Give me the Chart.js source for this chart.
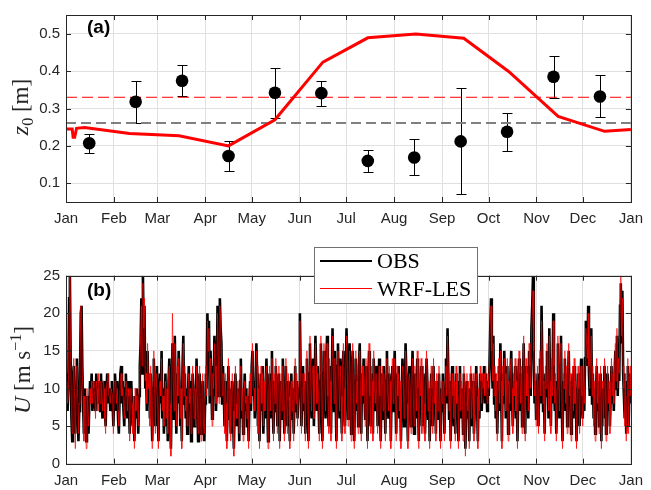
<!DOCTYPE html>
<html>
<head>
<meta charset="utf-8">
<script src="https://cdn.jsdelivr.net/npm/chart.js@4"></script>
<style>
    body { margin: 0; background: #fff; }
    #wrap { position: relative; width: 651px; height: 490px; }
    canvas { position: absolute; left: 0; }
    #chartA { top: 0; }
    #chartB { top: 235px; }
</style>
</head>
<body>
<div id="wrap">
    <canvas id="chartA" width="651" height="235"></canvas>
    <canvas id="chartB" width="651" height="255"></canvas>
</div>
<script>
// shared month axis (day of year)
const monthStarts = [0, 31, 59, 90, 120, 151, 181, 212, 243, 273, 304, 334, 365];
const monthLabels = ['Jan', 'Feb', 'Mar', 'Apr', 'May', 'Jun', 'Jul', 'Aug', 'Sep', 'Oct', 'Nov', 'Dec', 'Jan'];

// panel (a): roughness length
const z0Ticks = [0.1, 0.2, 0.3, 0.4, 0.5];
const obsDays = [15, 45, 75, 105, 135, 165, 195, 225, 255, 285, 315, 345];
const obsZ0 = [0.207, 0.318, 0.374, 0.173, 0.342, 0.341, 0.160, 0.169, 0.212, 0.238, 0.385, 0.332];
const obsZ0Low = [0.181, 0.261, 0.333, 0.133, 0.274, 0.307, 0.131, 0.123, 0.071, 0.187, 0.329, 0.276];
const obsZ0High = [0.232, 0.374, 0.415, 0.212, 0.409, 0.374, 0.190, 0.218, 0.354, 0.288, 0.441, 0.389];
const wrfDays = [0, 4, 4.6, 5.6, 6.8, 12, 41, 73, 105, 135, 166, 195, 226, 257, 286, 318, 348, 365];
const wrfZ0 = [0.245, 0.245, 0.223, 0.223, 0.247, 0.249, 0.233, 0.227, 0.200, 0.270, 0.424, 0.489, 0.499, 0.488, 0.399, 0.279, 0.239, 0.244];
const obsZ0Mean = 0.261;
const wrfZ0Mean = 0.330;

// panel (b): wind speed, two samples per day
const uTicks = [0, 5, 10, 15, 20, 25];
const obsU = [
    9,12,7,10,22,25,14,6,3,11,13,8,4,10,14,9,3,7,12,20,21,13,8,4,10,7,3,9,6,4,8,11,9,12,7,10,11,8,7,12,9,8,11,10,7,12,8,6,10,11,7,5,9,12,11,8,10,7,9,11,
    8,5,9,12,10,7,11,6,4,9,12,13,8,11,7,5,10,12,9,6,11,8,4,9,11,7,5,8,3,9,6,10,8,4,9,13,16,22,12,25,17,21,10,13,7,15,9,11,6,12,8,3,10,14,9,5,
    11,13,7,3,9,12,8,15,6,10,4,8,12,5,9,3,11,14,7,2,9,16,13,6,17,10,4,12,8,15,11,5,9,3,13,17,8,12,6,10,4,9,13,7,11,3,8,12,10,5,9,6,14,8,3,10,12,7,4,9,11,6,
    3,8,12,10,20,14,19,8,15,11,6,13,9,17,12,7,10,21,14,9,22,18,16,8,13,10,5,11,7,3,9,13,6,10,4,8,11,6,2,7,12,9,5,10,8,3,11,14,6,9,4,8,12,7,10,5,9,3,8,11,
    7,13,15,9,11,6,10,16,12,5,9,3,8,12,7,13,4,10,6,11,14,8,3,9,12,6,10,15,8,4,11,7,13,9,5,10,12,3,8,11,6,14,9,4,10,13,7,5,11,8,3,9,12,6,10,4,8,13,7,11,6,9,
    10,20,12,5,9,13,7,11,4,10,14,8,3,12,16,9,6,11,14,5,10,17,12,7,13,8,4,11,16,9,3,12,15,10,6,14,17,8,5,13,10,4,11,18,12,7,15,9,3,13,16,10,6,14,8,4,12,15,9,5,
    11,18,13,6,10,16,9,4,12,15,8,3,11,14,7,10,5,13,16,9,4,12,8,14,10,6,13,9,3,11,15,8,5,12,10,4,14,9,7,13,11,5,9,14,8,3,10,12,6,13,9,4,11,15,8,6,12,10,3,9,13,7,
    10,15,9,4,12,8,13,6,10,3,9,14,11,5,8,16,12,7,3,10,13,9,5,11,15,8,4,12,10,6,14,9,3,11,8,13,5,10,12,7,4,9,14,11,6,10,3,8,12,9,5,13,7,10,4,11,9,6,12,8,3,10,
    7,12,9,4,10,14,8,18,12,6,11,3,9,13,8,5,10,4,12,7,11,3,8,13,6,10,9,4,12,8,2,7,11,6,10,3,9,12,5,8,11,4,7,10,13,8,3,9,6,12,10,7,11,9,13,8,12,10,7,11,
    9,13,18,22,14,10,17,8,12,6,11,4,9,13,7,16,10,3,12,8,15,11,6,9,13,4,10,7,12,15,9,5,11,8,13,6,10,3,9,14,11,7,12,5,10,16,9,4,13,8,11,6,15,12,9,18,21,25,14,8,11,6,
    9,12,5,10,14,8,21,13,7,10,4,12,9,15,11,6,18,10,5,13,8,20,12,7,11,4,9,16,10,6,13,17,8,3,11,9,14,7,12,5,10,15,8,11,4,9,12,6,13,7,10,3,8,12,9,5,11,14,8,6,
    11,7,14,19,17,13,21,12,9,15,18,8,12,6,10,4,9,13,7,11,5,8,12,3,10,9,6,13,11,4,8,12,7,10,5,9,13,8,11,7,12,15,10,17,9,13,11,21,24,16,23,12,9,6,11,4,8,13,5,10,12,8
];
const wrfU = [
    10,11,8,9,20,25,15,7,4,10,14,9,2,9,13,10,4,8,13,21,20,12,9,3,9,8,2,10,7,5,9,10,8,11,8,11,10,9,6,11,10,7,12,9,8,11,9,7,11,10,6,4,10,11,12,9,9,8,10,10,
    9,4,10,11,11,8,10,7,5,8,11,12,9,10,8,6,9,11,10,7,10,9,3,10,10,8,4,9,2,10,7,9,9,5,10,12,17,21,13,24,18,22,11,12,8,16,10,12,5,13,9,2,11,15,10,4,
    12,12,8,2,10,11,9,14,7,9,5,9,11,6,10,4,12,13,8,1,10,20,12,7,16,11,5,13,9,14,12,6,10,2,12,16,9,13,7,9,5,10,12,8,10,4,9,13,9,6,10,5,13,9,4,11,13,6,3,10,12,5,
    4,9,13,9,19,15,18,9,14,12,5,12,10,16,13,8,11,20,15,8,21,19,15,9,12,11,4,12,8,2,10,14,5,11,3,9,12,7,1,8,13,8,6,11,9,4,12,13,7,10,3,9,11,8,9,6,10,2,9,12,
    8,12,16,10,10,7,11,15,13,4,10,2,9,13,8,12,5,11,7,12,13,9,2,10,13,7,11,14,9,3,12,8,14,10,4,11,13,2,9,12,7,13,10,3,11,14,8,4,12,9,2,10,11,7,11,3,9,14,8,12,5,10,
    11,19,13,4,10,12,8,12,3,11,15,9,2,13,17,10,7,12,13,6,11,16,13,8,12,9,3,12,17,10,2,13,16,11,7,13,16,9,4,14,11,3,12,17,13,8,14,10,2,14,15,11,7,13,9,3,13,16,10,4,
    12,17,14,5,11,15,10,3,13,16,9,2,12,15,8,11,4,14,15,10,3,13,9,13,11,5,14,10,2,12,16,9,4,13,11,3,15,10,8,12,12,4,10,13,9,2,11,13,7,12,10,3,12,14,9,7,13,11,2,10,14,8,
    11,14,10,3,13,9,12,7,11,2,10,13,12,6,9,15,13,8,2,11,12,10,4,12,14,9,5,13,11,7,15,10,2,12,9,14,4,11,13,8,3,10,15,12,7,11,2,9,13,10,4,14,8,11,3,12,10,7,13,9,2,11,
    8,11,10,3,11,13,9,17,13,7,12,2,10,12,9,6,11,3,13,8,12,2,9,12,7,11,10,3,13,9,1,8,12,7,11,2,10,13,6,9,12,3,8,11,12,9,2,10,7,13,11,8,12,10,12,9,13,11,8,12,
    10,14,19,21,15,11,16,9,13,7,12,3,10,14,8,15,11,2,13,9,14,12,7,10,14,3,11,8,13,14,10,4,12,9,14,7,11,2,10,15,12,8,13,4,11,17,10,3,14,9,12,7,16,13,10,17,20,23,15,9,12,5,
    10,13,4,11,15,9,19,14,8,11,3,13,10,16,12,7,17,11,4,14,9,19,13,8,12,3,10,17,11,7,14,16,9,2,12,10,15,8,13,4,11,16,9,12,3,10,13,7,14,8,11,2,9,13,10,4,12,13,9,5,
    12,8,13,18,16,14,20,13,10,14,17,9,13,5,11,3,10,14,8,12,4,9,13,2,11,10,5,14,12,3,9,13,8,11,4,10,14,9,12,8,13,16,11,18,10,14,12,22,25,17,22,13,10,5,12,3,9,14,4,11,13,9
];

const INK = '#262626';
const TICK_FONT = { family: 'Liberation Sans, Arial, sans-serif', size: 15 };
const SERIF = 'Liberation Serif, Times New Roman, serif';

function toXY(xs, ys) {
    return ys.map((v, i) => ({ x: xs[i], y: v }));
}
function spreadOverYear(ys) {
    return ys.map((v, i) => ({ x: i * 365 / (ys.length - 1), y: v }));
}

function monthAxis(height) {
    return {
        type: 'linear', min: 0, max: 365,
        afterBuildTicks: s => { s.ticks = monthStarts.map(v => ({ value: v })); },
        afterFit: s => { s.height = height; },
        ticks: {
            autoSkip: false, maxRotation: 0, padding: 8, color: INK, font: TICK_FONT,
            callback: v => monthLabels[monthStarts.indexOf(v)]
        },
        grid: { color: '#e0e0e0', drawTicks: false },
        border: { display: false }
    };
}

function valueAxis(min, max, ticks, fmt) {
    return {
        type: 'linear', min: min, max: max,
        afterBuildTicks: s => { s.ticks = ticks.map(v => ({ value: v })); },
        afterFit: s => { s.width = 66; },
        ticks: { padding: 6, color: INK, font: TICK_FONT, callback: fmt },
        grid: { color: '#e0e0e0', drawTicks: false },
        border: { display: false }
    };
}

// box, inward ticks, panel letter and the LaTeX-like y title
const matlabAxes = {
    id: 'matlabAxes',
    afterDraw(chart, args, opts) {
        const { ctx, chartArea: a, scales: { x, y } } = chart;
        ctx.save();
        ctx.strokeStyle = INK;
        ctx.lineWidth = 1;
        ctx.beginPath();
        x.ticks.forEach(t => {
            const px = Math.round(x.getPixelForValue(t.value)) + 0.5;
            ctx.moveTo(px, a.bottom); ctx.lineTo(px, a.bottom - 5);
            ctx.moveTo(px, a.top); ctx.lineTo(px, a.top + 5);
        });
        y.ticks.forEach(t => {
            const py = Math.round(y.getPixelForValue(t.value)) + 0.5;
            ctx.moveTo(a.left, py); ctx.lineTo(a.left + 5, py);
            ctx.moveTo(a.right, py); ctx.lineTo(a.right - 5, py);
        });
        ctx.stroke();
        ctx.strokeRect(Math.round(a.left) + 0.5, Math.round(a.top) + 0.5,
            Math.round(a.right - a.left), Math.round(a.bottom - a.top));

        ctx.fillStyle = '#000';
        ctx.font = 'bold 19px Liberation Sans, Arial, sans-serif';
        ctx.textBaseline = 'alphabetic';
        ctx.textAlign = 'left';
        ctx.fillText(opts.panel, 87, opts.panelY);

        // rotated title made of parts
        ctx.fillStyle = INK;
        const parts = opts.title;
        let total = 0;
        parts.forEach(p => {
            ctx.font = (p.it ? 'italic ' : '') + p.s + 'px ' + SERIF;
            p.w = ctx.measureText(p.t).width;
            total += p.w;
        });
        ctx.translate(opts.titleX, opts.titleY);
        ctx.rotate(-Math.PI / 2);
        let cx = -total / 2;
        parts.forEach(p => {
            ctx.font = (p.it ? 'italic ' : '') + p.s + 'px ' + SERIF;
            ctx.fillText(p.t, cx, p.dy || 0);
            cx += p.w;
        });
        ctx.restore();
    }
};

const errorBars = {
    id: 'errorBars',
    beforeDatasetsDraw(chart) {
        const { ctx, scales: { x, y } } = chart;
        ctx.save();
        ctx.strokeStyle = '#000';
        ctx.lineWidth = 1;
        ctx.beginPath();
        obsDays.forEach((d, i) => {
            const px = Math.round(x.getPixelForValue(d)) + 0.5;
            const lo = Math.round(y.getPixelForValue(obsZ0Low[i])) + 0.5;
            const hi = Math.round(y.getPixelForValue(obsZ0High[i])) + 0.5;
            ctx.moveTo(px, lo); ctx.lineTo(px, hi);
            ctx.moveTo(px - 5, lo); ctx.lineTo(px + 5, lo);
            ctx.moveTo(px - 5, hi); ctx.lineTo(px + 5, hi);
        });
        ctx.stroke();
        ctx.restore();
    }
};

const boxLegend = {
    id: 'boxLegend',
    afterDraw(chart) {
        const ctx = chart.ctx;
        const ds = chart.data.datasets;
        ctx.save();
        ctx.fillStyle = '#fff';
        ctx.fillRect(314.5, 12.5, 163, 56);
        ctx.strokeStyle = '#707070';
        ctx.lineWidth = 1;
        ctx.strokeRect(314.5, 12.5, 163, 56);
        const rows = [ds[1], ds[0]];
        rows.forEach((d, i) => {
            const yy = 26 + i * 27.5;
            ctx.strokeStyle = i === 0 ? '#000' : '#ff0000';
            ctx.lineWidth = i === 0 ? 2 : 1;
            ctx.beginPath();
            ctx.moveTo(320, yy); ctx.lineTo(372, yy);
            ctx.stroke();
            ctx.fillStyle = '#000';
            ctx.font = '22px ' + SERIF;
            ctx.textBaseline = 'alphabetic';
            ctx.fillText(d.label, 377, yy + 7);
        });
        ctx.restore();
    }
};

new Chart(document.getElementById('chartA'), {
    type: 'scatter',
    data: {
        datasets: [
            { label: 'obs', data: toXY(obsDays, obsZ0), pointRadius: 6.3, pointBackgroundColor: '#000',
              pointBorderColor: '#000', pointBorderWidth: 0, order: 0 },
            { label: 'wrf', data: toXY(wrfDays, wrfZ0), showLine: true, borderColor: '#ff0000',
              borderWidth: 3, pointRadius: 0, order: 1 },
            { label: 'wrf mean', data: [{ x: 0, y: wrfZ0Mean }, { x: 365, y: wrfZ0Mean }], showLine: true,
              borderColor: '#ff0000', borderWidth: 1, borderDash: [11, 5], pointRadius: 0, order: 2 },
            { label: 'obs mean', data: [{ x: 0, y: obsZ0Mean }, { x: 365, y: obsZ0Mean }], showLine: true,
              borderColor: '#808080', borderWidth: 2, borderDash: [10, 5], pointRadius: 0, order: 3 }
        ]
    },
    options: {
        responsive: false,
        animation: false,
        layout: { padding: { top: 13, right: 14, left: 0, bottom: 0 } },
        scales: {
            x: monthAxis(33),
            y: valueAxis(0.05, 0.55, z0Ticks, v => v.toFixed(1))
        },
        plugins: {
            legend: { display: false },
            tooltip: { enabled: false },
            matlabAxes: {
                panel: '(a)', panelY: 33, titleX: 28, titleY: 107,
                title: [{ t: 'z', it: true, s: 24 }, { t: '0', s: 16, dy: 5 }, { t: ' [m]', s: 23 }]
            }
        }
    },
    plugins: [errorBars, matlabAxes]
});

new Chart(document.getElementById('chartB'), {
    type: 'scatter',
    data: {
        datasets: [
            { label: 'WRF-LES', data: spreadOverYear(wrfU), showLine: true, borderColor: 'rgba(255,0,0,0.8)',
              borderWidth: 0.9, pointRadius: 0, order: 0 },
            { label: 'OBS', data: spreadOverYear(obsU), showLine: true, borderColor: '#000000',
              borderWidth: 2.6, pointRadius: 0, order: 1 }
        ]
    },
    options: {
        responsive: false,
        animation: false,
        layout: { padding: { top: 40.7, right: 14, left: 0, bottom: 0 } },
        scales: {
            x: monthAxis(26.3),
            y: valueAxis(0, 25, uTicks, v => String(v))
        },
        plugins: {
            legend: { display: false },
            tooltip: { enabled: false },
            matlabAxes: {
                panel: '(b)', panelY: 61, titleX: 30, titleY: 135,
                title: [{ t: 'U', it: true, s: 24 }, { t: ' [m s', s: 23 }, { t: '\u22121', s: 16, dy: -9 }, { t: ']', s: 23 }]
            }
        }
    },
    plugins: [matlabAxes, boxLegend]
});
</script>
</body>
</html>
